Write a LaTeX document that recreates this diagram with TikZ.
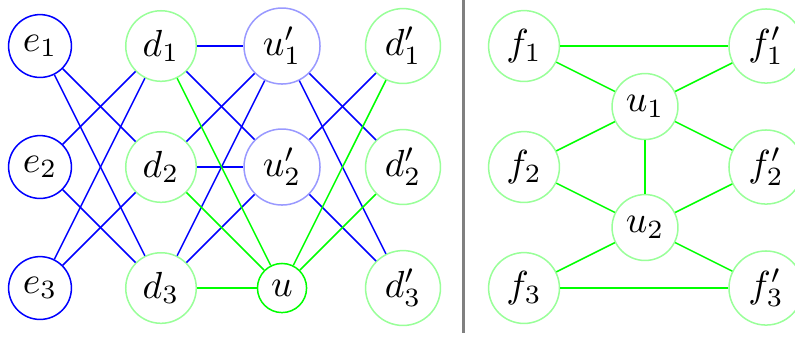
\documentclass[tikz,border=0pt]{standalone}
\usepackage{amsmath}
\usepackage{xcolor}
\usepackage{tikz}
\usetikzlibrary{positioning, calc}

\begin{document}
\begin{tikzpicture}[
        node distance=1.128cm and 1.128cm,
        on grid,
        every node/.style={inner sep=2.1pt},
        bluenode/.style={circle, draw=blue},
        lightbluenode/.style={circle, draw=blue!40},
        greennode/.style={circle, draw=green},
        lightgreennode/.style={circle, draw=green!40},
        bedge/.style={draw=blue},
        gedge/.style={draw=green},
        divider/.style={draw=gray, line width=0.6pt}
    ]

    \useasboundingbox (-0.373,0.429) rectangle (7.038,-2.722);

    % left panel
    \node (e1) [bluenode] {$e_1$};
    \node (e2) [bluenode, below=of e1] {$e_2$};
    \node (e3) [bluenode, below=of e2] {$e_3$};
    \node (d1) [lightgreennode, right=of e1] {$d_1$};
    \node (d2) [lightgreennode, right=of e2] {$d_2$};
    \node (d3) [lightgreennode, right=of e3] {$d_3$};
    \node (up1) [lightbluenode, right=of d1] {$u'_1$};
    \node (up2) [lightbluenode, right=of d2] {$u'_2$};
    \node (u) [greennode, right=of d3] {$u$};
    \node (dp1) [lightgreennode, right=of up1] {$d'_1$};
    \node (dp2) [lightgreennode, right=of up2] {$d'_2$};
    \node (dp3) [lightgreennode, right=of u] {$d'_3$};

    \draw [bedge] (e1) -- (d2);
    \draw [bedge] (e1) -- (d3);
    \draw [bedge] (e2) -- (d1);
    \draw [bedge] (e2) -- (d3);
    \draw [bedge] (e3) -- (d1);
    \draw [bedge] (e3) -- (d2);
    \draw [bedge] (d1) -- (up1);
    \draw [bedge] (d1) -- (up2);
    \draw [bedge] (d2) -- (up1);
    \draw [bedge] (d2) -- (up2);
    \draw [bedge] (d3) -- (up1);
    \draw [bedge] (d3) -- (up2);
    \draw [gedge] (d1) -- (u);
    \draw [gedge] (d2) -- (u);
    \draw [gedge] (d3) -- (u);
    \draw [bedge] (up1) -- (dp2);
    \draw [bedge] (up1) -- (dp3);
    \draw [bedge] (up2) -- (dp1);
    \draw [bedge] (up2) -- (dp3);
    \draw [gedge] (u) -- (dp1);
    \draw [gedge] (u) -- (dp2);

    % right panel
    \node (f1) [lightgreennode, right=of dp1] {$f_1$};
    \node (f2) [lightgreennode, right=of dp2] {$f_2$};
    \node (f3) [lightgreennode, right=of dp3] {$f_3$};
    \node (u1) [lightgreennode, below right=0.564cm and 1.128cm of f1] {$u_1$};
    \node (u2) [lightgreennode, below=of u1] {$u_2$};
    \node (fp1) [lightgreennode, right=2.256cm of f1] {$f'_1$};
    \node (fp2) [lightgreennode, right=2.256cm of f2] {$f'_2$};
    \node (fp3) [lightgreennode, right=2.256cm of f3] {$f'_3$};

    \draw [gedge] (f1) -- (fp1);
    \draw [gedge] (f1) -- (u1);
    \draw [gedge] (fp1) -- (u1);
    \draw [gedge] (u1) -- (f2);
    \draw [gedge] (u1) -- (fp2);
    \draw [gedge] (u1) -- (u2);
    \draw [gedge] (f2) -- (u2);
    \draw [gedge] (fp2) -- (u2);
    \draw [gedge] (u2) -- (f3);
    \draw [gedge] (u2) -- (fp3);
    \draw [gedge] (f3) -- (fp3);

    % divider
    \coordinate (divtop) at ($(dp1)!0.5!(f1) + (0,0.429)$);
    \coordinate (divbot) at ($(dp3)!0.5!(f3) + (0,-0.42)$);
    \draw [divider] (divtop) -- (divbot);

\end{tikzpicture}
\end{document}
